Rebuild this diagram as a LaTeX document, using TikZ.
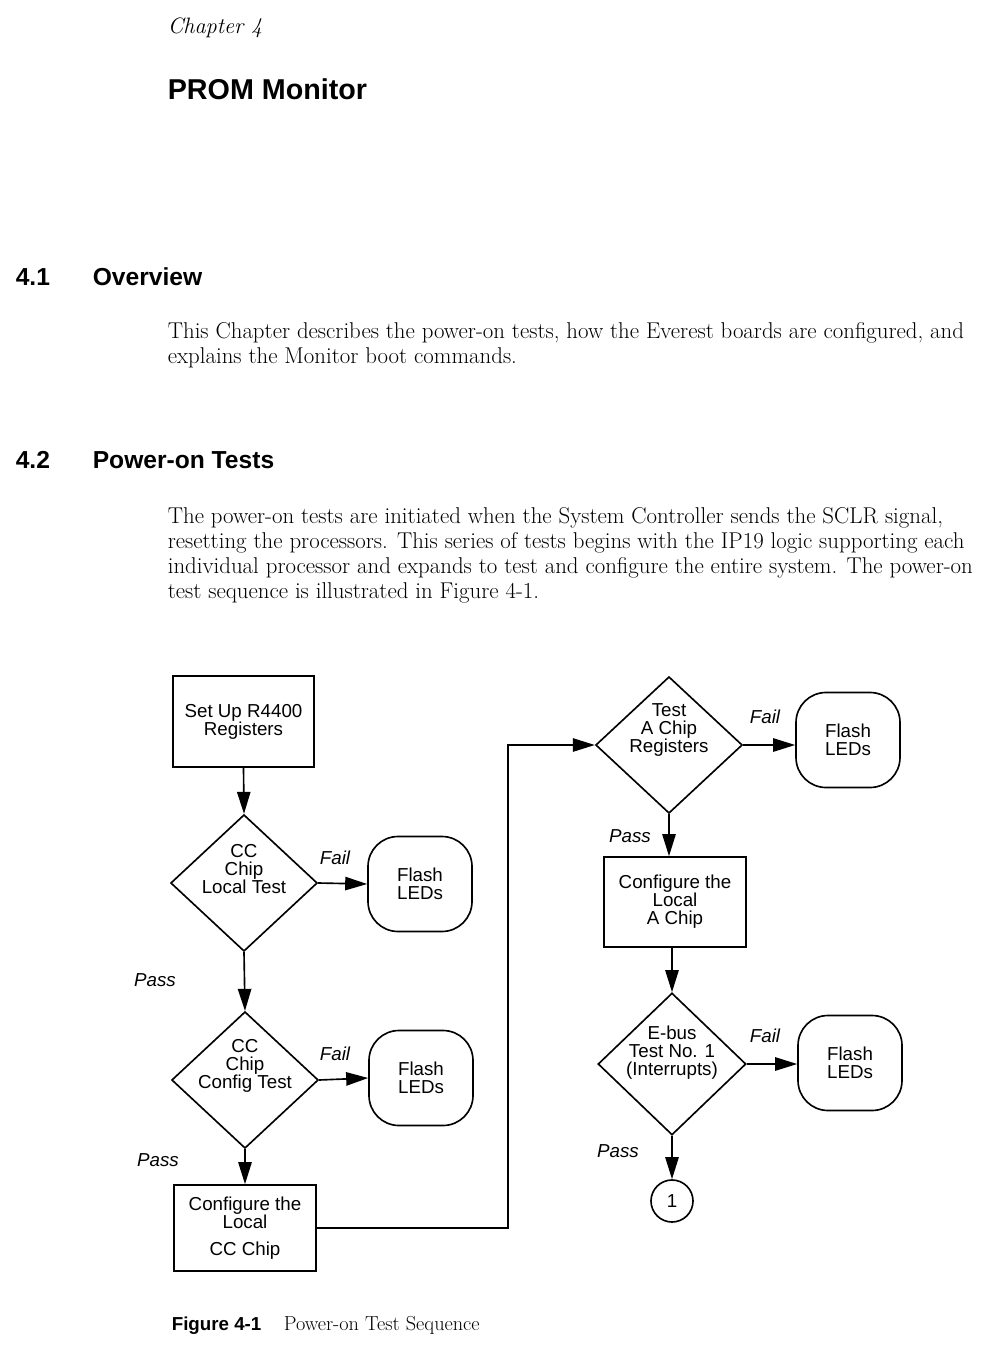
\documentclass[tikz,border=0pt]{standalone}
\usepackage{fontspec}
\newfontfamily\helv{Liberation Sans}
\usetikzlibrary{shapes.geometric, arrows.meta, positioning}

\begin{document}
\begin{tikzpicture}[>={Triangle[length=6.6mm,width=4mm]}, x=0.3mm, y=-0.3mm, line width=1.4pt,
  font=\helv\fontsize{16}{15.4}\selectfont,
  proc/.style={rectangle,draw,align=center,inner sep=0pt},
  dec/.style={diamond,draw,inner sep=0pt,minimum width=44mm,minimum height=41mm},
  dectext/.style={align=center,inner sep=0pt},
  leds/.style={rectangle,draw,rounded corners=9mm,align=center,minimum width=31.2mm,minimum height=28.5mm},
  tag/.style={font=\helv\itshape\fontsize{16}{16}\selectfont},
  head/.style={anchor=base west,inner sep=0pt,font=\helv\bfseries\fontsize{21}{21}\selectfont},
  body/.style={anchor=base west,inner sep=0pt,align=left,font=\rmfamily\fontsize{19.5}{21.3}\selectfont}]
\useasboundingbox (0,0) rectangle (999,1349);

% page heading
\node[anchor=base west,inner sep=0pt,font=\rmfamily\itshape\fontsize{19}{19}\selectfont] (chap) at (167,34) {Chapter 4};
\node[anchor=base west,inner sep=0pt,font=\helv\bfseries\fontsize{24.5}{24.5}\selectfont] (title) at (167,100) {PROM Monitor};

% 4.1 Overview
\node[head] (secnuma) at (15,285) {4.1};
\node[head] (seca) at (92,285) {Overview};
\node[body] (paraa) at (167,363) {This Chapter describes the power-on tests, how the Everest boards are configured, and\\explains the Monitor boot commands.};

% 4.2 Power-on Tests
\node[head] (secnumb) at (15,468) {4.2};
\node[head] (secb) at (92,468) {Power-on Tests};
\node[body] (parab) at (167,598) {The power-on tests are initiated when the System Controller sends the SCLR signal,\\resetting the processors. This series of tests begins with the IP19 logic supporting each\\individual processor and expands to test and configure the entire system. The power-on\\test sequence is illustrated in Figure 4-1.};

% left column
\node[proc,minimum width=42.3mm,minimum height=27.3mm] (setup) at (243.5,721.5) {Set Up R4400\\Registers};
\node[dec] (cclocal) at (244,883) {};
\node[dectext] (cclocaltxt) at (244,869) {CC\\Chip\\Local Test};
\node[leds] (ledsa) at (420,884) {Flash\\LEDs};
\node[dec] (ccconf) at (245,1080) {};
\node[dectext] (ccconftxt) at (245,1066) {CC\\Chip\\Config Test};
\node[leds] (ledsb) at (421,1078) {Flash\\LEDs};
\node[proc,minimum width=42.6mm,minimum height=25.8mm] (cccfg) at (245,1228) {Configure the\\Local\\[7pt]CC Chip};

% right column
\node[dec] (atest) at (669,745) {};
\node[dectext] (atesttxt) at (669,730) {Test\\A Chip\\Registers};
\node[leds] (ledsc) at (848,740) {Flash\\LEDs};
\node[proc,minimum width=42.6mm,minimum height=27mm] (acfg) at (675,902) {Configure the\\Local\\A Chip};
\node[dec,minimum width=44.4mm,minimum height=42.6mm] (ebus) at (672,1064) {};
\node[dectext] (ebustxt) at (672,1053) {E-bus\\Test No. 1\\(Interrupts)};
\node[leds] (ledsd) at (850,1063) {Flash\\LEDs};
\node[circle,draw,minimum size=12.6mm,inner sep=0pt] (conn) at (672,1201) {1};

% Pass / Fail tags
\node[tag] (faila) at (335,858) {Fail};
\node[tag] (failb) at (335,1054) {Fail};
\node[tag] (failc) at (765,717) {Fail};
\node[tag] (faild) at (765,1036) {Fail};
\node[tag] (passa) at (155,980) {Pass};
\node[tag] (passb) at (158,1160) {Pass};
\node[tag] (passc) at (630,836) {Pass};
\node[tag] (passd) at (618,1151) {Pass};

% connectors
\draw[->] (setup.south) -- (cclocal.north);
\draw[->] (cclocal.east) -- (ledsa.west);
\draw[->] (cclocal.south) -- (ccconf.north);
\draw[->] (ccconf.east) -- (ledsb.west);
\draw[->] (ccconf.south) -- (cccfg.north);
\draw[->] (cccfg.east) -- ++(191,0) |- (atest.west);
\draw[->] (atest.east) -- (ledsc.west |- atest.east);
\draw[->] (atest.south) -- (atest.south |- acfg.north);
\draw[->] (ebus.north |- acfg.south) -- (ebus.north);
\draw[->] (ebus.east) -- (ledsd.west |- ebus.east);
\draw[->] (ebus.south) -- (conn.north);

% caption
\node[anchor=base west,inner sep=0pt,font=\helv\bfseries\fontsize{16}{16}\selectfont] (figno) at (171,1330) {Figure 4-1};
\node[anchor=base west,inner sep=0pt,font=\rmfamily\fontsize{17.3}{17.3}\selectfont] (figcap) at (283,1330) {Power-on Test Sequence};
\end{tikzpicture}
\end{document}
